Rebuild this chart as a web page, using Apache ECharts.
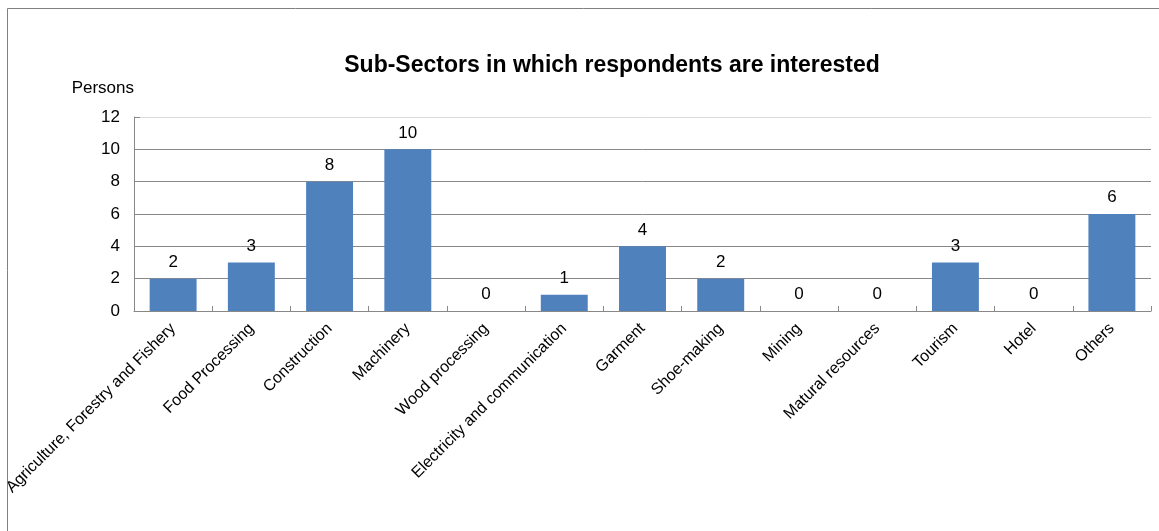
<!DOCTYPE html>
<html>
<head>
<meta charset="utf-8">
<script src="https://cdn.jsdelivr.net/npm/echarts@6/dist/echarts.min.js"></script>
<style>
  html, body { margin: 0; padding: 0; background: #fff; }
  #chart { width: 1159px; height: 531px; }
</style>
</head>
<body>
<div id="chart"></div>
<script>
// sub-sectors and how many respondents picked each
var sectors = [
  "Agriculture, Forestry and Fishery", "Food Processing", "Construction",
  "Machinery", "Wood processing", "Electricity and communication",
  "Garment", "Shoe-making", "Mining", "Matural resources",
  "Tourism", "Hotel", "Others"
];
var persons = [2, 3, 8, 10, 0, 1, 4, 2, 0, 0, 3, 0, 6];
var yTicks = [0, 2, 4, 6, 8, 10, 12];

var chart = echarts.init(document.getElementById("chart"));
var font = "Arial, 'Liberation Sans', sans-serif";

var option = {
  animation: false,
  textStyle: { fontFamily: font },
  title: {
    text: "Sub-Sectors in which respondents are interested",
    left: 607,
    textAlign: "center",
    top: 49,
    textStyle: { fontSize: 23, fontWeight: "bold", color: "#000", fontFamily: font }
  },
  graphic: [
    {
      type: "rect",
      shape: { x: 7.5, y: 8.5, width: 1200, height: 600 },
      style: { fill: "none", stroke: "#808080", lineWidth: 1 },
      silent: true
    }
  ],
  grid: { left: 134, right: 8, top: 117, bottom: 220 },
  xAxis: {
    type: "category",
    data: sectors,
    axisLine: { lineStyle: { color: "#888", width: 1 } },
    axisTick: { show: true, inside: true, length: 5, lineStyle: { color: "#888" } },
    axisLabel: {
      rotate: 45,
      interval: 0,
      margin: 15,
      color: "#000",
      fontSize: 16,
      fontFamily: font
    }
  },
  yAxis: {
    type: "value",
    min: yTicks[0],
    max: yTicks[yTicks.length - 1],
    interval: 2,
    name: "Persons",
    nameLocation: "end",
    nameGap: 20,
    nameTextStyle: { color: "#000", fontSize: 17, align: "right", fontFamily: font },
    axisLine: { show: true, lineStyle: { color: "#888", width: 1 } },
    axisTick: { show: true, inside: true, length: 6, lineStyle: { color: "#888" } },
    axisLabel: { color: "#000", fontSize: 17, margin: 14, fontFamily: font },
    splitLine: {
      show: true,
      lineStyle: { color: ["#888", "#888", "#888", "#888", "#888", "#888", "#dcdcdc"], width: 1 }
    }
  },
  series: [
    {
      type: "bar",
      data: persons,
      barCategoryGap: "40%",
      itemStyle: { color: "#4f81bd" },
      label: {
        show: true,
        position: "top",
        distance: 8,
        color: "#000",
        fontSize: 17,
        fontFamily: font
      }
    }
  ]
};
chart.setOption(option);
</script>
</body>
</html>
